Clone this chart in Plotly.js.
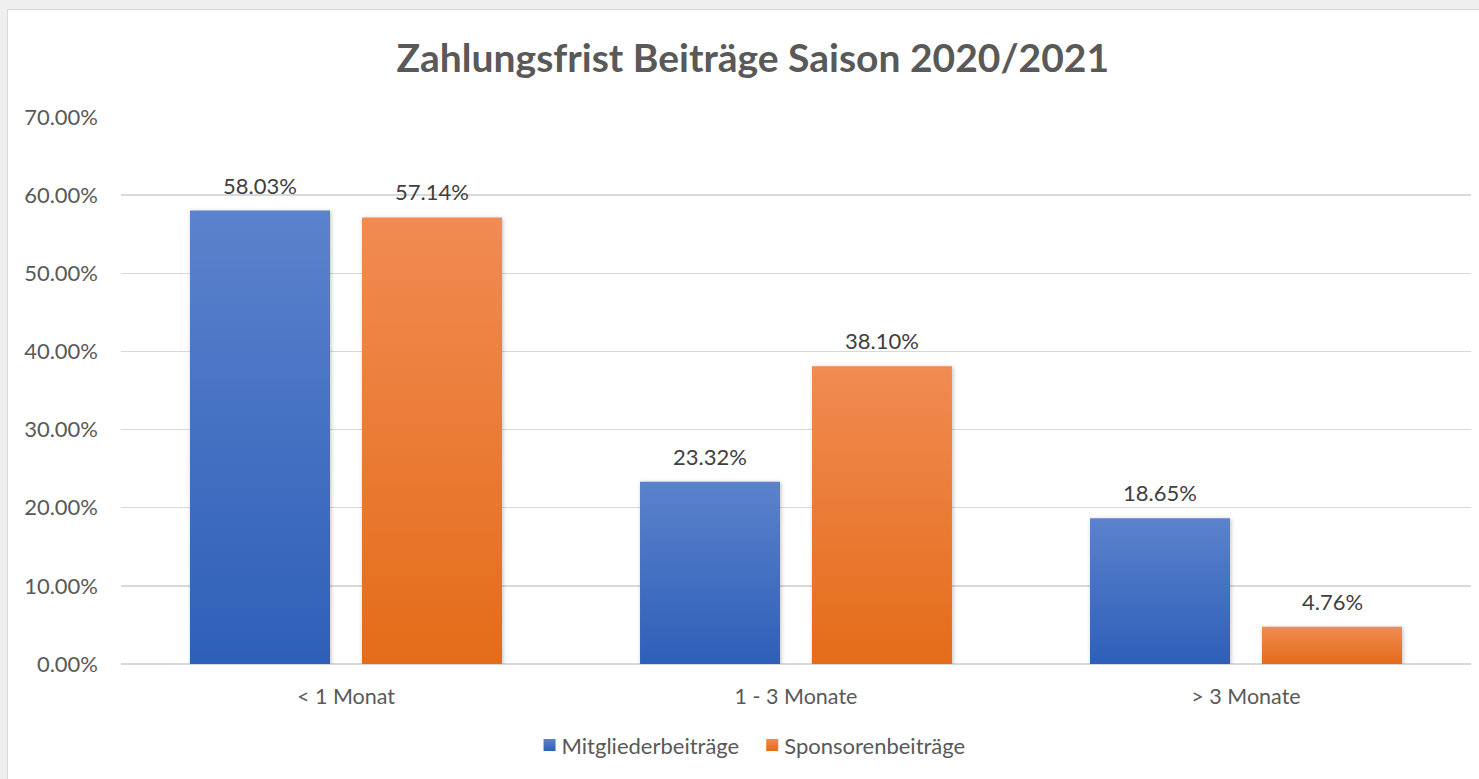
<!DOCTYPE html>
<html>
<head>
<meta charset="utf-8">
<script src="https://cdn.plot.ly/plotly-3.0.1.min.js"></script>
<style>
html,body{margin:0;padding:0;background:#efefef;width:1479px;height:779px;overflow:hidden;}
#frame{position:absolute;left:7px;top:9px;width:1472px;height:770px;border-left:1px solid #d9d9d9;border-top:1px solid #d9d9d9;background:#fff;}
#chart{position:absolute;left:0;top:0;width:1472px;height:770px;}
</style>
</head>
<body>
<div id="frame"><div id="chart"></div></div>
<script>
const categories = ["< 1 Monat", "1 - 3 Monate", "> 3 Monate"];
const mitglieder = [0.5803, 0.2332, 0.1865];
const sponsoren = [0.5714, 0.3810, 0.0476];
const seriesNames = ["Mitgliederbeiträge", "Sponsorenbeiträge"];
const yTicks = [0, 0.1, 0.2, 0.3, 0.4, 0.5, 0.6, 0.7];

const font = "Lato, 'Open Sans', sans-serif";
function trace(name, vals, color) {
  return {
    type: "bar", name: name, x: categories, y: vals,
    marker: {color: color, line: {width: 0}},
    hoverinfo: "none"
  };
}
const data = [trace(seriesNames[0], mitglieder, "#4472c4"), trace(seriesNames[1], sponsoren, "#ed7d31")];
const annotations = [];
[mitglieder, sponsoren].forEach((vals, si) => {
  vals.forEach((v, i) => {
    annotations.push({
      x: categories[i], y: v, xref: "x", yref: "y",
      text: (v*100).toFixed(2) + "%", showarrow: false,
      xanchor: "center", yanchor: "bottom", yshift: 10, xshift: si === 0 ? -86 : 86,
      font: {family: font, size: 22, color: "#404040"}
    });
  });
});
const layout = {
  width: 1472, height: 770,
  margin: {l: 113, r: 9, t: 107, b: 116},
  paper_bgcolor: "rgba(0,0,0,0)", plot_bgcolor: "rgba(0,0,0,0)",
  font: {family: font, color: "#595959", size: 22},
  title: {text: "<b>Zahlungsfrist Beiträge Saison 2020/2021</b>", font: {family: font, size: 39, color: "#595959"}, x: 0.506, xanchor: "center", y: 0.937, yanchor: "middle"},
  barmode: "group", bargap: 0.2356, bargroupgap: 0.186,
  annotations: annotations,
  xaxis: {showgrid: false, showline: false, ticks: "", tickfont: {size: 21.5, color: "#595959"}, ticklabelstandoff: 17, fixedrange: true},
  yaxis: {range: [0, 0.7], tickvals: yTicks, tickformat: ".2%", showgrid: true, gridcolor: "#d9d9d9", gridwidth: 1.5, zeroline: true, zerolinecolor: "#d9d9d9", zerolinewidth: 1.5, showline: false, ticks: "", tickfont: {size: 22, color: "#595959"}, ticklabelstandoff: 22, fixedrange: true},
  showlegend: true,
  legend: {orientation: "h", x: 0.463, xanchor: "center", y: -0.11, yanchor: "top", font: {size: 22, color: "#595959"}, itemwidth: 30, traceorder: "normal", itemclick: false},
};
Plotly.newPlot("chart", data, layout, {displayModeBar: false, staticPlot: true}).then(gd => {
  const svg = gd.querySelector("svg.main-svg");
  const ns = "http://www.w3.org/2000/svg";
  let defs = svg.querySelector("defs");
  function grad(id, top, bottom) {
    const g = document.createElementNS(ns, "linearGradient");
    g.setAttribute("id", id);
    g.setAttribute("x1", "0"); g.setAttribute("y1", "0"); g.setAttribute("x2", "0"); g.setAttribute("y2", "1");
    [[0, top], [1, bottom]].forEach(([o, c]) => {
      const s = document.createElementNS(ns, "stop");
      s.setAttribute("offset", o); s.setAttribute("stop-color", c);
      g.appendChild(s);
    });
    defs.appendChild(g);
  }
  grad("gBlue", "#5b82cc", "#2e5fb8");
  grad("gOrange", "#f18b52", "#e46c19");
  const ids = ["gBlue", "gOrange"];
  gd.querySelectorAll(".barlayer .trace").forEach((t, i) => {
    t.querySelectorAll("path").forEach(p => { p.style.fill = "url(#" + ids[i] + ")"; p.style.filter = "drop-shadow(1px 1px 2px rgba(0,0,0,0.25))"; });
  });
  gd.querySelectorAll(".legend .traces").forEach((t, i) => {
    const lp = t.querySelector(".legendpoints");
    if (lp) lp.setAttribute("transform", "translate(8,0)");
    t.querySelectorAll(".legendpoints path").forEach(p => { p.style.fill = "url(#" + ids[i] + ")"; });
  });
});
</script>
</body>
</html>
